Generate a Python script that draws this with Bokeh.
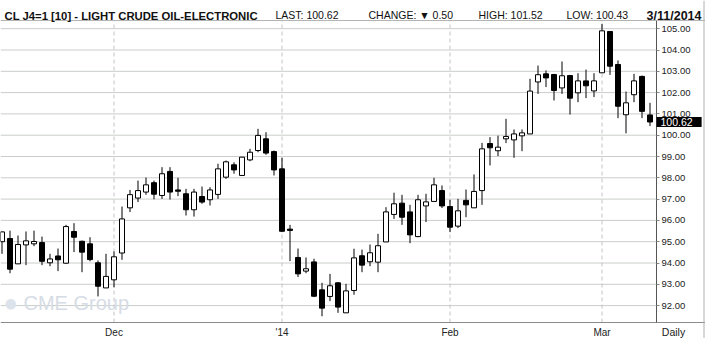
from bokeh.plotting import figure
from bokeh.models import (Range1d, FixedTicker, Label, ColumnDataSource,
                          NumeralTickFormatter, Span)
from bokeh.embed import file_html
from bokeh.resources import INLINE

# ---- data (daily OHLC, light crude oil, Nov 2013 - Mar 11 2014) ----
opens = [95.00, 95.15, 93.96, 94.85, 94.90, 94.96, 94.01, 94.33, 93.99, 95.48,
         95.02, 94.90, 94.01, 92.83, 93.21, 94.47, 96.59, 97.05, 97.33, 97.77,
         97.17, 98.30, 97.43, 97.25, 96.50, 97.12, 96.97, 97.22, 98.03, 98.61,
         98.11, 98.84, 99.28, 99.83, 99.23, 98.42, 95.59, 94.26, 93.62, 94.05,
         92.74, 92.43, 93.07, 91.66, 92.71, 94.34, 94.06, 94.04, 94.99, 96.28,
         96.81, 96.40, 95.24, 96.68, 96.89, 97.40, 96.65, 95.73, 96.94, 96.59,
         97.40, 99.61, 99.27, 99.83, 99.78, 99.97, 100.06, 102.50, 102.88, 102.85,
         102.22, 102.80, 101.99, 102.55, 102.08, 102.93, 104.87, 103.32, 100.96, 101.90,
         102.76, 100.95]
highs = [95.47, 95.52, 95.29, 95.48, 95.52, 95.24, 94.43, 94.68, 95.79, 95.87,
         95.05, 95.21, 94.12, 94.43, 94.54, 96.65, 97.43, 97.87, 98.01, 97.87,
         98.50, 98.50, 98.00, 97.48, 97.48, 97.59, 97.56, 98.66, 98.81, 98.73,
         98.97, 99.36, 100.30, 100.14, 99.28, 98.94, 95.79, 94.68, 94.26, 94.20,
         93.07, 93.49, 93.10, 93.02, 94.67, 94.63, 94.87, 95.37, 96.62, 97.30,
         97.20, 96.73, 97.20, 97.25, 98.00, 97.64, 96.97, 97.01, 97.45, 98.16,
         99.64, 99.91, 99.98, 100.77, 100.27, 100.27, 102.65, 103.27, 103.04, 102.88,
         103.46, 102.83, 102.91, 103.08, 102.91, 105.23, 104.87, 103.51, 102.05, 102.88,
         102.80, 101.52]
lows = [94.43, 93.52, 93.96, 93.90, 94.79, 93.90, 93.85, 93.62, 93.96, 94.51,
        93.57, 94.08, 92.43, 92.83, 92.86, 94.15, 96.39, 96.86, 97.20, 96.99,
        97.01, 96.98, 97.14, 96.23, 96.18, 96.78, 96.70, 97.01, 97.95, 98.19,
        98.11, 98.78, 99.20, 99.08, 98.11, 95.45, 94.09, 93.34, 93.52, 92.40,
        91.50, 92.21, 91.66, 91.66, 92.51, 93.57, 93.85, 93.57, 94.99, 96.07,
        95.79, 94.93, 95.21, 95.92, 96.89, 96.58, 95.45, 95.64, 96.15, 96.59,
        96.73, 98.58, 99.02, 99.63, 98.94, 99.25, 100.06, 101.94, 102.26, 101.63,
        101.94, 100.97, 101.55, 101.74, 101.79, 102.93, 102.83, 100.80, 100.09, 101.55,
        100.80, 100.43]
closes = [95.46, 93.71, 94.87, 95.04, 95.01, 94.08, 94.19, 94.15, 95.71, 95.21,
          94.51, 94.16, 92.91, 93.37, 94.29, 96.07, 97.21, 97.40, 97.67, 97.23,
          98.19, 97.33, 97.37, 96.50, 97.33, 96.86, 97.43, 98.42, 98.75, 98.37,
          98.97, 99.20, 99.99, 99.16, 98.37, 95.49, 95.53, 93.49, 93.73, 92.44,
          91.88, 92.93, 91.93, 92.69, 94.24, 93.90, 94.48, 94.81, 96.40, 96.78,
          96.15, 95.32, 96.97, 96.87, 97.67, 96.68, 95.68, 96.45, 96.73, 97.36,
          99.36, 99.41, 99.44, 99.94, 100.06, 100.11, 102.07, 102.84, 102.69, 102.10,
          102.79, 101.74, 102.55, 102.32, 102.55, 104.90, 103.24, 101.36, 101.52, 102.55,
          101.12, 100.62]
days = list(range(len(opens)))

month_ticks = [14, 35, 56, 75]
month_labels = ["Dec", "'14", "Feb", "Mar"]
price_ticks = list(range(92, 106))

title_text = "CL J4=1 [10] - LIGHT CRUDE OIL-ELECTRONIC"
last_text = "LAST: 100.62"
change_text = "CHANGE: \u25BC 0.50"
high_text = "HIGH: 101.52"
low_text = "LOW: 100.43"
date_text = "3/11/2014"
last_price = 100.62

# ---- layout (pixel geometry of the canvas) ----
W, H = 705, 338
X0 = -0.1875                 # 8 px per trading day
X1 = X0 + W / 8.0
Y_TOP = 100 + 134.7 / 21.3   # 21.3 px per dollar
Y_BOT = Y_TOP - H / 21.3
AXIS_X = X0 + 656 / 8.0      # price axis position
AXIS_Y = Y_TOP - 322 / 21.3  # time axis position
HEAD_Y = Y_TOP - 20 / 21.3   # header separator

FONT = "'Liberation Sans', Arial, sans-serif"

p = figure(width=W, height=H,
           x_range=Range1d(X0, X1), y_range=Range1d(Y_BOT, Y_TOP),
           y_axis_location="right", toolbar_location=None, output_backend="svg",
           min_border=0, min_border_left=0, min_border_right=0,
           min_border_top=0, min_border_bottom=0,
           background_fill_color="white", border_fill_color="white",
           outline_line_color=None)
p.xgrid.visible = False
p.ygrid.visible = False

# grid lines (drawn from tick arrays)
p.segment(x0=[X0] * len(price_ticks), x1=[AXIS_X] * len(price_ticks),
          y0=price_ticks, y1=price_ticks, line_color="#c9cec9", line_width=1)
p.segment(x0=month_ticks, x1=month_ticks, y0=[AXIS_Y] * len(month_ticks),
          y1=[HEAD_Y] * len(month_ticks), line_color="#c4c4c4", line_width=1,
          line_dash="4 3")

# axes
xa = p.xaxis[0]
xa.fixed_location = AXIS_Y
xa.ticker = FixedTicker(ticks=month_ticks)
xa.major_label_overrides = dict(zip(month_ticks, month_labels))
xa.major_tick_out = 0
xa.major_tick_in = 0
xa.minor_tick_out = 0
xa.minor_tick_in = 0
xa.axis_line_color = "#8c8c8c"
xa.major_label_standoff = 4
xa.major_label_text_font = FONT
xa.major_label_text_font_size = "10px"
xa.major_label_text_color = "#222222"

ya = p.yaxis[0]
ya.fixed_location = AXIS_X
ya.bounds = (AXIS_Y, HEAD_Y)
ya.ticker = FixedTicker(ticks=price_ticks)
ya.formatter = NumeralTickFormatter(format="0.00")
ya.major_tick_out = 3
ya.major_tick_in = 0
ya.minor_tick_out = 0
ya.minor_tick_in = 0
ya.axis_line_color = "#555555"
ya.major_tick_line_color = "#888888"
ya.major_label_standoff = 2
ya.major_label_text_font = FONT
ya.major_label_text_font_size = "9.5px"
ya.major_label_text_color = "#222222"

# header separator and right border
p.add_layout(Span(location=HEAD_Y, dimension="width", line_color="#b4b4b4", line_width=1))
p.add_layout(Span(location=X0 + 703.5 / 8.0, dimension="height", line_color="#b0b0b0", line_width=1))

# candles
up = [c >= o for o, c in zip(opens, closes)]
src_up = ColumnDataSource(dict(
    x=[d for d, u in zip(days, up) if u],
    top=[c for c, u in zip(closes, up) if u],
    bottom=[o for o, u in zip(opens, up) if u]))
src_dn = ColumnDataSource(dict(
    x=[d for d, u in zip(days, up) if not u],
    top=[o for o, u in zip(opens, up) if not u],
    bottom=[c for c, u in zip(closes, up) if not u]))

p.segment(x0=days, y0=lows, x1=days, y1=highs, line_color="black", line_width=1)
p.vbar(x="x", top="top", bottom="bottom", width=0.625, source=src_up,
       fill_color="white", line_color="black", line_width=1)
p.vbar(x="x", top="top", bottom="bottom", width=0.625, source=src_dn,
       fill_color="black", line_color="black", line_width=1)

# header texts (screen units from the canvas bottom-left)
def hdr(x, y, text, size, style="normal", align="left"):
    p.add_layout(Label(x=x, y=y, x_units="screen", y_units="screen", text=text,
                       text_font=FONT, text_font_size=size, text_font_style=style,
                       text_baseline="alphabetic", text_align=align, text_color="#111111"))

hdr(4, H - 15, title_text, "11.3px", style="bold")
hdr(275, H - 14, last_text, "10.5px")
hdr(368, H - 14, change_text, "10.5px")
hdr(478, H - 14, high_text, "10.5px")
hdr(566, H - 14, low_text, "10.5px")
hdr(701, H - 15, date_text, "12.5px", style="bold", align="right")

# "Daily" under the price axis
p.add_layout(Label(x=673, y=H - 331, x_units="screen", y_units="screen", text="Daily",
                   text_font=FONT, text_font_size="10.5px", text_baseline="middle",
                   text_align="center", text_color="#222222"))

# CME Group watermark
p.add_layout(Label(x=3, y=H - 302, x_units="screen", y_units="screen", text="\u25CF",
                   text_font=FONT, text_font_size="24px", text_baseline="middle",
                   text_color="#dde3ea"))
p.add_layout(Label(x=23, y=H - 302, x_units="screen", y_units="screen", text="CME Group",
                   text_font=FONT, text_font_size="20px",
                   text_baseline="middle", text_color="#d6dce5"))

# last price box on the price axis
p.add_layout(Label(x=656, y=last_price, x_units="screen", y_units="data",
                   text="%.2f" % last_price, text_font=FONT, text_font_size="10.5px",
                   text_baseline="middle", text_color="white",
                   background_fill_color="black",
                   padding=dict(left=4, right=9, top=1, bottom=1)))

open("out.html", "w").write(file_html(p, INLINE))
